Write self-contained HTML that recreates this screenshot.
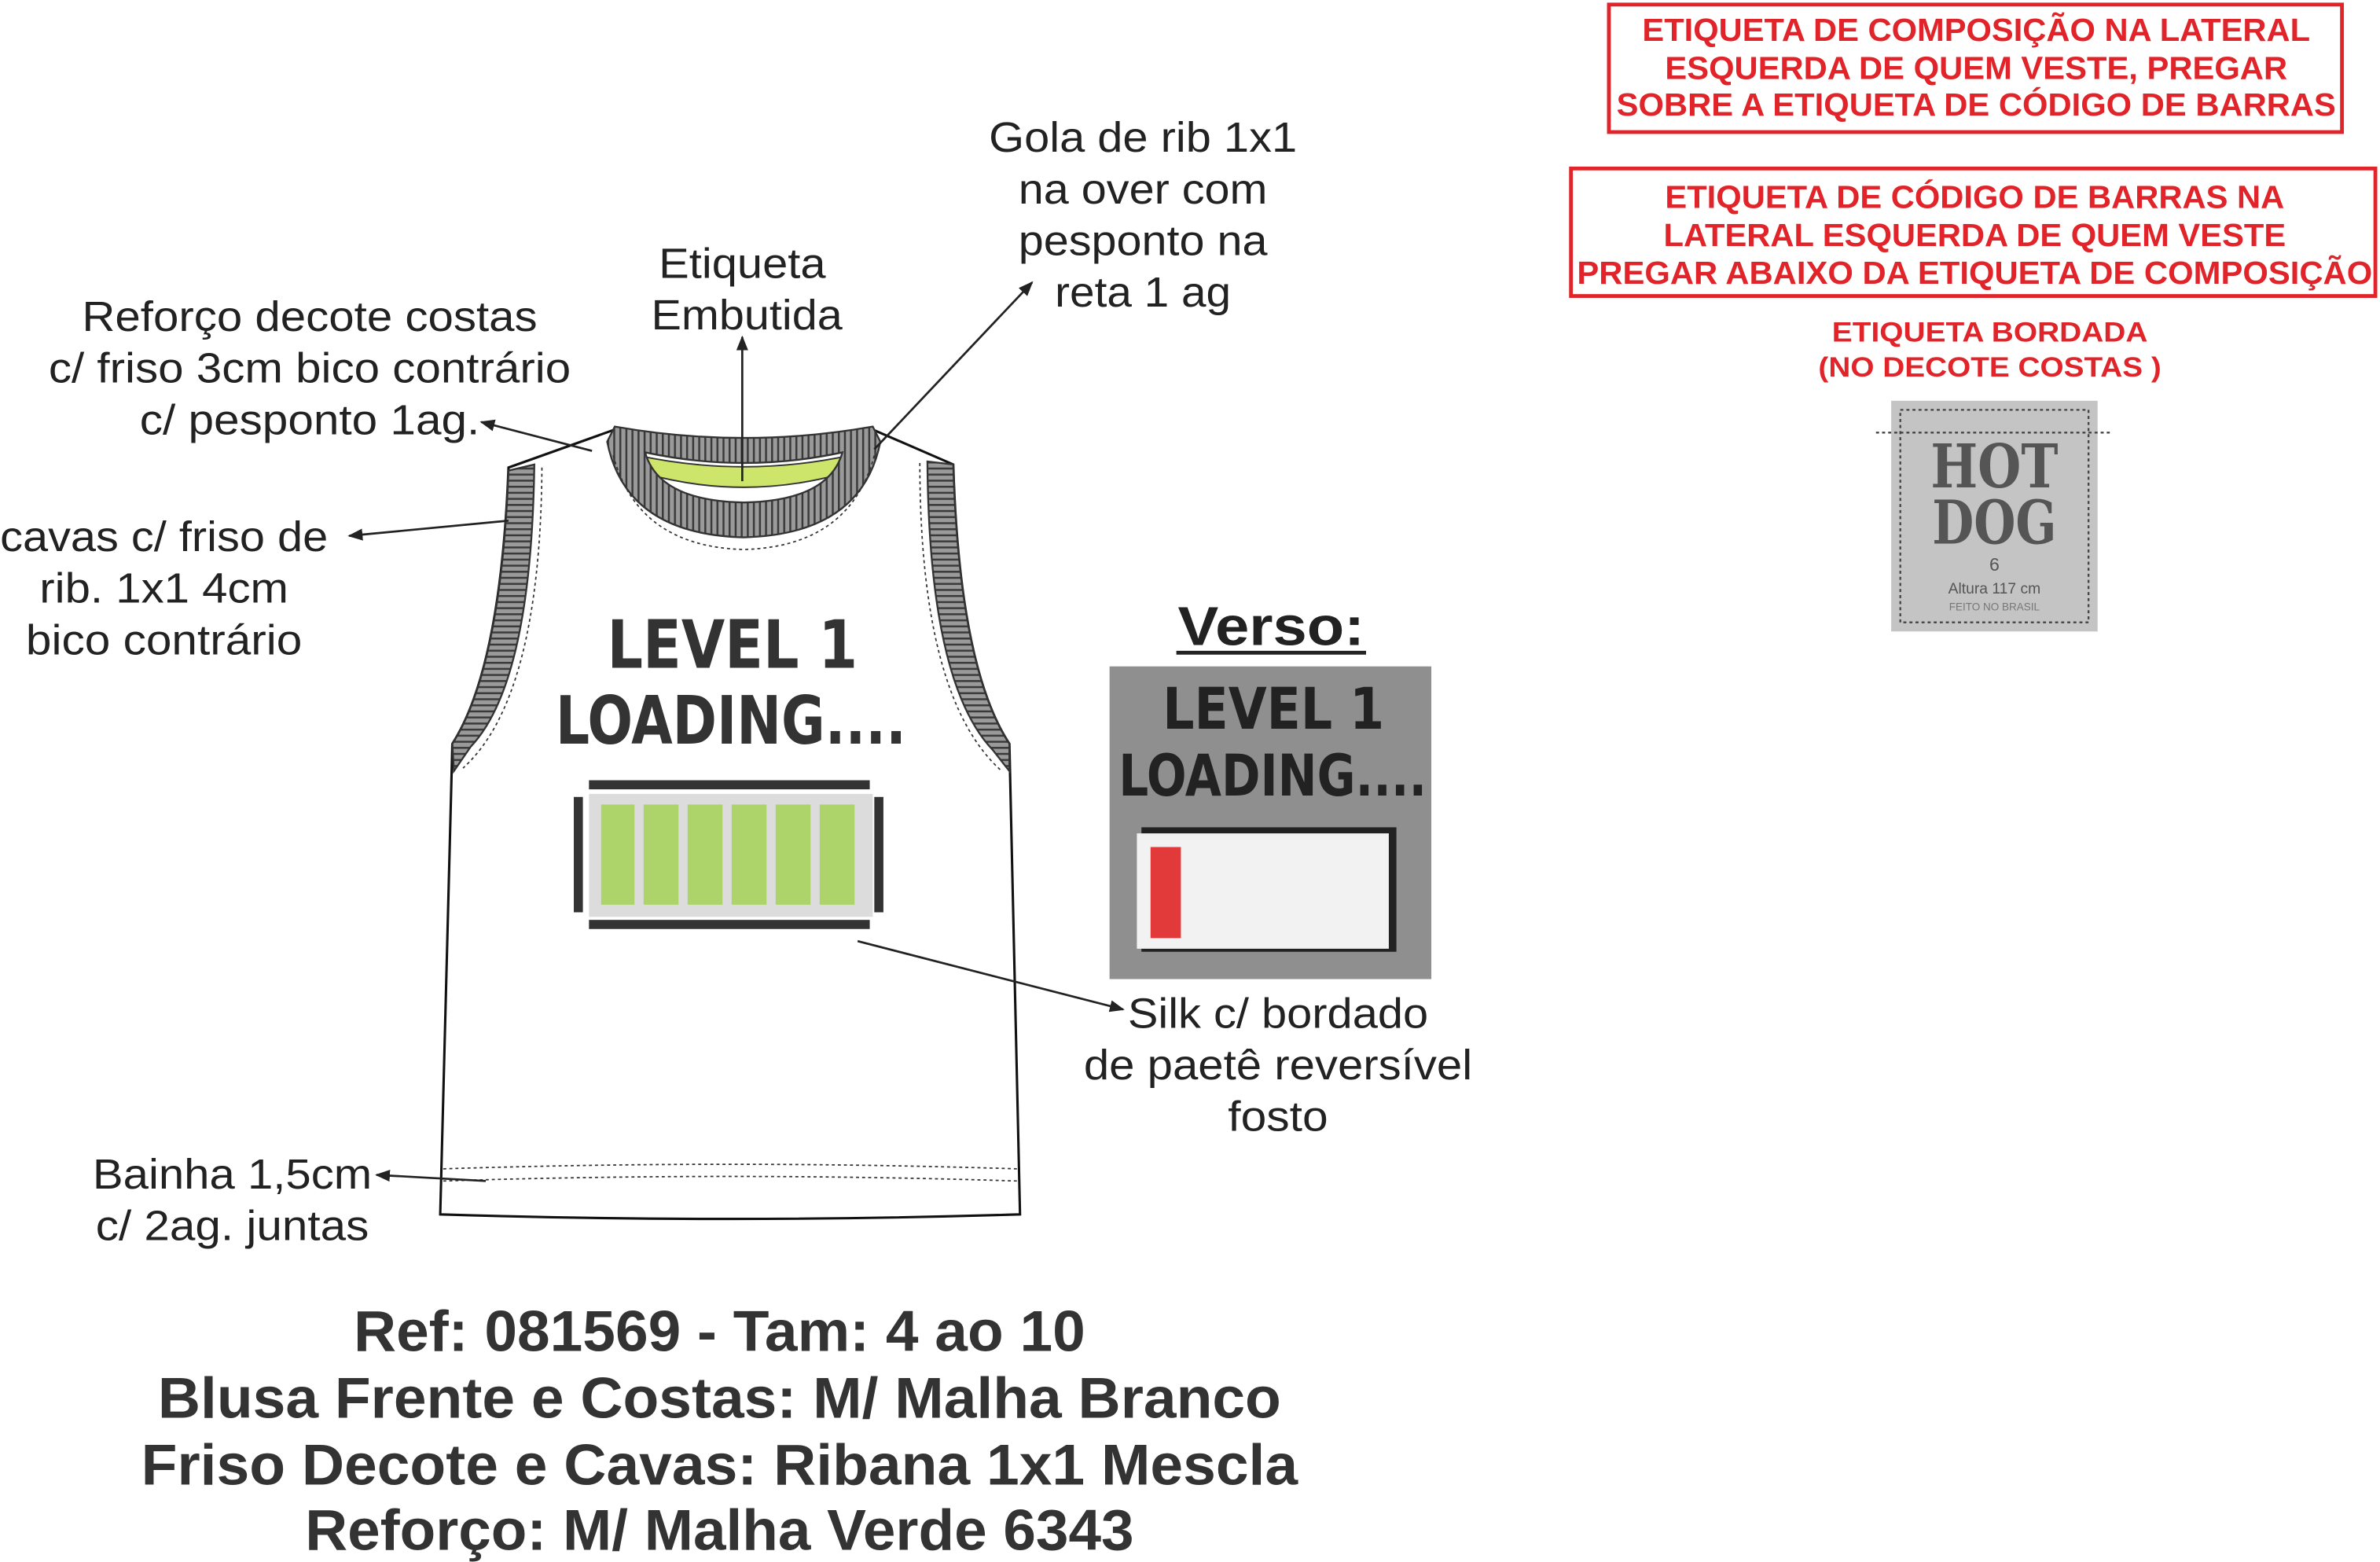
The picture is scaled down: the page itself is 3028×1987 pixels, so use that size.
<!DOCTYPE html>
<html><head><meta charset="utf-8"><style>
html,body{margin:0;padding:0;background:#fff;}
svg{display:block}
text{font-family:"Liberation Sans",sans-serif;}
</style></head><body>
<svg width="3028" height="1987" viewBox="0 0 1568 1029" xmlns="http://www.w3.org/2000/svg">
<defs>
<marker id="ar" viewBox="0 0 10 10" refX="9" refY="5" markerWidth="7" markerHeight="7" orient="auto-start-reverse"><path d="M0,1 L10,5 L0,9 z" fill="#222"/></marker>
<pattern id="ribV" width="4" height="4" patternUnits="userSpaceOnUse"><rect width="4" height="4" fill="#9a9a9a"/><rect width="1.3" height="4" fill="#3a3a3a"/></pattern>
<pattern id="ribH" width="4" height="4" patternUnits="userSpaceOnUse"><rect width="4" height="4" fill="#9a9a9a"/><rect width="4" height="1.3" fill="#3a3a3a"/></pattern>
</defs>
<rect width="1568" height="1029" fill="#fff"/>

<path d="M335,308 L405,283 Q490,300 575,283 L628,306 Q632,440 665,490 L672,800 Q480,806 290,800 L298,490 Q330,440 335,308 Z" fill="#fff" stroke="#111" stroke-width="1.6"/>
<path d="M335,310 L352,306 Q350,450 310,492 L299,508 L298,490 Q330,440 335,310 Z" fill="url(#ribH)" stroke="#333" stroke-width="1.2"/>
<path d="M628,306 L611,304 Q612,450 654,494 L665,508 L665,490 Q632,440 628,306 Z" fill="url(#ribH)" stroke="#333" stroke-width="1.2"/>
<path d="M357,308 Q356,460 305,506" fill="none" stroke="#333" stroke-dasharray="2,2" stroke-width="0.9"/>
<path d="M606,305 Q606,460 660,508" fill="none" stroke="#333" stroke-dasharray="2,2" stroke-width="0.9"/>
<path d="M420,300 Q490,315 560,300 L555,312 Q490,330 425,312 Z" fill="#cde56a" stroke="#333" stroke-width="1"/>
<path d="M400,291 L405,281 Q490,296 575,281 L580,291 Q568,352 490,354 Q412,352 400,291 Z M425,298 Q490,312 555,298 Q546,330 490,331 Q434,330 425,298 Z" fill="url(#ribV)" fill-rule="evenodd" stroke="#333" stroke-width="1.2"/>
<path d="M404,300 Q420,360 490,362 Q560,360 576,300" fill="none" stroke="#333" stroke-dasharray="2,2" stroke-width="0.9"/>
<path d="M292,770 Q480,764 670,770" fill="none" stroke="#333" stroke-dasharray="2,2" stroke-width="0.9"/>
<path d="M292,778 Q480,772 670,778" fill="none" stroke="#333" stroke-dasharray="2,2" stroke-width="0.9"/>

<text x="400" y="440" textLength="165" lengthAdjust="spacingAndGlyphs" font-size="44" font-weight="bold" fill="#333" style="font-family:'DejaVu Sans Condensed','DejaVu Sans',sans-serif">LEVEL 1</text>
<text x="366" y="490" textLength="231" lengthAdjust="spacingAndGlyphs" font-size="44" font-weight="bold" fill="#333" style="font-family:'DejaVu Sans Condensed','DejaVu Sans',sans-serif">LOADING....</text>
<rect x="388" y="514" width="185" height="6" fill="#333"/>
<rect x="388" y="606" width="185" height="6" fill="#333"/>
<rect x="378" y="525" width="6" height="76" fill="#333"/>
<rect x="576" y="525" width="6" height="76" fill="#333"/>
<rect x="388" y="523" width="187" height="81" fill="#dcdcdc"/>
<g fill="#acd46a">
<rect x="396" y="530" width="22" height="66"/><rect x="424" y="530" width="23" height="66"/><rect x="453" y="530" width="23" height="66"/><rect x="482" y="530" width="23" height="66"/><rect x="511" y="530" width="23" height="66"/><rect x="540" y="530" width="23" height="66"/>
</g>

<text x="776" y="425" textLength="123" lengthAdjust="spacingAndGlyphs" font-size="36" font-weight="bold" fill="#222">Verso:</text>
<line x1="775" y1="430" x2="900" y2="430" stroke="#222" stroke-width="2.5"/>
<rect x="731" y="439" width="212" height="206" fill="#8f8f8f"/>
<text x="766" y="480" textLength="146" lengthAdjust="spacingAndGlyphs" font-size="38" font-weight="bold" fill="#222" style="font-family:'DejaVu Sans Condensed','DejaVu Sans',sans-serif">LEVEL 1</text>
<text x="737" y="524" textLength="203" lengthAdjust="spacingAndGlyphs" font-size="38" font-weight="bold" fill="#222" style="font-family:'DejaVu Sans Condensed','DejaVu Sans',sans-serif">LOADING....</text>
<rect x="752" y="545" width="168" height="82" fill="#222"/>
<rect x="749" y="549" width="166" height="76" fill="#f2f2f2"/>
<rect x="758" y="558" width="20" height="60" fill="#e23a3a"/>

<rect x="1060" y="3" width="483" height="84" fill="none" stroke="#e0242a" stroke-width="2.5"/>
<g fill="#e0242a" font-weight="bold" font-size="21" text-anchor="middle">
<text x="1302" y="27" textLength="440" lengthAdjust="spacingAndGlyphs">ETIQUETA DE COMPOSIÇÃO NA LATERAL</text>
<text x="1302" y="52" textLength="410" lengthAdjust="spacingAndGlyphs">ESQUERDA DE QUEM VESTE, PREGAR</text>
<text x="1302" y="76" textLength="474" lengthAdjust="spacingAndGlyphs">SOBRE A ETIQUETA DE CÓDIGO DE BARRAS</text>
</g>
<rect x="1035" y="111" width="530" height="84" fill="none" stroke="#e0242a" stroke-width="2.5"/>
<g fill="#e0242a" font-weight="bold" font-size="21" text-anchor="middle">
<text x="1301" y="137" textLength="408" lengthAdjust="spacingAndGlyphs">ETIQUETA DE CÓDIGO DE BARRAS NA</text>
<text x="1301" y="162" textLength="410" lengthAdjust="spacingAndGlyphs">LATERAL ESQUERDA DE QUEM VESTE</text>
<text x="1301" y="187" textLength="524" lengthAdjust="spacingAndGlyphs">PREGAR ABAIXO DA ETIQUETA DE COMPOSIÇÃO</text>
<text x="1311" y="225" font-size="18" textLength="208" lengthAdjust="spacingAndGlyphs">ETIQUETA BORDADA</text>
<text x="1311" y="248" font-size="18" textLength="226" lengthAdjust="spacingAndGlyphs">(NO DECOTE COSTAS )</text>
</g>
<rect x="1246" y="264" width="136" height="152" fill="#c4c4c4"/>
<rect x="1252" y="270" width="124" height="140" fill="none" stroke="#444" stroke-dasharray="2,2" stroke-width="1.2"/>
<line x1="1236" y1="285" x2="1392" y2="285" stroke="#444" stroke-dasharray="2,2" stroke-width="1.2"/>
<text x="1272" y="321" textLength="84" lengthAdjust="spacingAndGlyphs" font-size="40" font-weight="bold" fill="#555" style="font-family:'DejaVu Serif','Liberation Serif',serif">HOT</text>
<text x="1273" y="358" textLength="82" lengthAdjust="spacingAndGlyphs" font-size="40" font-weight="bold" fill="#555" style="font-family:'DejaVu Serif','Liberation Serif',serif">DOG</text>
<text x="1314" y="376" text-anchor="middle" font-size="12" fill="#555">6</text>
<text x="1314" y="391" text-anchor="middle" font-size="10" fill="#555">Altura 117 cm</text>
<text x="1314" y="402" text-anchor="middle" font-size="7" fill="#777">FEITO NO BRASIL</text>

<g font-size="28" fill="#222" text-anchor="middle">
<text x="753" y="100" textLength="203" lengthAdjust="spacingAndGlyphs">Gola de rib 1x1</text>
<text x="753" y="134" textLength="164" lengthAdjust="spacingAndGlyphs">na over com</text>
<text x="753" y="168" textLength="164" lengthAdjust="spacingAndGlyphs">pesponto na</text>
<text x="753" y="202" textLength="116" lengthAdjust="spacingAndGlyphs">reta 1 ag</text>
<text x="489" y="183" textLength="110" lengthAdjust="spacingAndGlyphs">Etiqueta</text>
<text x="492" y="217" textLength="126" lengthAdjust="spacingAndGlyphs">Embutida</text>
<text x="204" y="218" textLength="300" lengthAdjust="spacingAndGlyphs">Reforço decote costas</text>
<text x="204" y="252" textLength="344" lengthAdjust="spacingAndGlyphs">c/ friso 3cm bico contrário</text>
<text x="204" y="286" textLength="224" lengthAdjust="spacingAndGlyphs">c/ pesponto 1ag.</text>
<text x="108" y="363" textLength="216" lengthAdjust="spacingAndGlyphs">cavas c/ friso de</text>
<text x="108" y="397" textLength="164" lengthAdjust="spacingAndGlyphs">rib. 1x1 4cm</text>
<text x="108" y="431" textLength="182" lengthAdjust="spacingAndGlyphs">bico contrário</text>
<text x="153" y="783" textLength="184" lengthAdjust="spacingAndGlyphs">Bainha 1,5cm</text>
<text x="153" y="817" textLength="180" lengthAdjust="spacingAndGlyphs">c/ 2ag. juntas</text>
<text x="842" y="677" textLength="198" lengthAdjust="spacingAndGlyphs">Silk c/ bordado</text>
<text x="842" y="711" textLength="256" lengthAdjust="spacingAndGlyphs">de paetê reversível</text>
<text x="842" y="745" textLength="66" lengthAdjust="spacingAndGlyphs">fosto</text>
</g>
<g stroke="#222" stroke-width="1.4" fill="none">
<line x1="576" y1="296" x2="680" y2="186" marker-end="url(#ar)"/>
<line x1="489" y1="317" x2="489" y2="222" marker-end="url(#ar)"/>
<line x1="390" y1="297" x2="317" y2="278" marker-end="url(#ar)"/>
<line x1="335" y1="343" x2="230" y2="353" marker-end="url(#ar)"/>
<line x1="320" y1="778" x2="248" y2="774" marker-end="url(#ar)"/>
<line x1="565" y1="620" x2="740" y2="665" marker-end="url(#ar)"/>
</g>

<g font-size="38" font-weight="bold" fill="#333" text-anchor="middle">
<text x="474" y="890" textLength="482" lengthAdjust="spacingAndGlyphs">Ref: 081569 - Tam: 4 ao 10</text>
<text x="474" y="934" textLength="740" lengthAdjust="spacingAndGlyphs">Blusa Frente e Costas: M/ Malha Branco</text>
<text x="474" y="978" textLength="762" lengthAdjust="spacingAndGlyphs">Friso Decote e Cavas: Ribana 1x1 Mescla</text>
<text x="474" y="1021" textLength="546" lengthAdjust="spacingAndGlyphs">Reforço: M/ Malha Verde 6343</text>
</g>
</svg>
</body></html>
